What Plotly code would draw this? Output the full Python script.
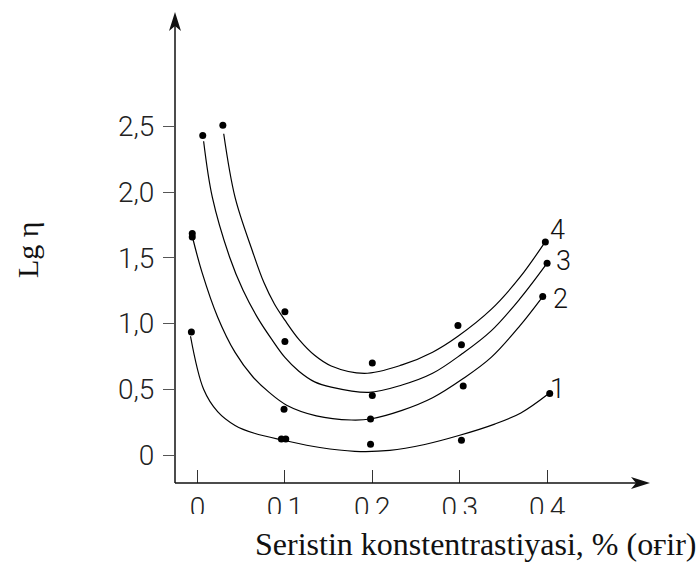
import plotly.graph_objects as go

# Measured points: cerium concentration (%) vs lg(viscosity), four series
conc_1 = [-0.007, 0.096, 0.101, 0.198, 0.302, 0.403]
lg_eta_1 = [0.935, 0.121, 0.121, 0.081, 0.113, 0.468]

conc_2 = [-0.006, -0.006, 0.099, 0.198, 0.304, 0.395]
lg_eta_2 = [1.685, 1.658, 0.347, 0.274, 0.524, 1.205]

conc_3 = [0.006, 0.100, 0.200, 0.302, 0.400]
lg_eta_3 = [2.429, 0.863, 0.452, 0.839, 1.459]

conc_4 = [0.029, 0.100, 0.200, 0.298, 0.398]
lg_eta_4 = [2.507, 1.090, 0.700, 0.984, 1.620]

# Smoothed fit curves through each series
fit_x_1 = [-0.008, 0.007, 0.023, 0.043, 0.065, 0.100, 0.140, 0.180, 0.220, 0.260, 0.300, 0.340, 0.370, 0.402]
fit_y_1 = [0.903, 0.500, 0.330, 0.225, 0.165, 0.110, 0.057, 0.028, 0.035, 0.080, 0.150, 0.235, 0.320, 0.468]

fit_x_2 = [-0.005, 0.005, 0.023, 0.043, 0.063, 0.082, 0.102, 0.136, 0.176, 0.198, 0.234, 0.269, 0.304, 0.336, 0.369, 0.395]
fit_y_2 = [1.637, 1.393, 1.050, 0.780, 0.597, 0.476, 0.379, 0.298, 0.266, 0.274, 0.339, 0.435, 0.581, 0.742, 0.984, 1.205]

fit_x_3 = [0.007, 0.017, 0.037, 0.052, 0.069, 0.085, 0.100, 0.116, 0.134, 0.153, 0.196, 0.234, 0.269, 0.302, 0.336, 0.369, 0.400]
fit_y_3 = [2.386, 1.959, 1.500, 1.254, 1.041, 0.879, 0.742, 0.637, 0.556, 0.516, 0.476, 0.532, 0.621, 0.766, 0.944, 1.189, 1.459]

fit_x_4 = [0.030, 0.043, 0.063, 0.076, 0.088, 0.100, 0.116, 0.134, 0.153, 0.191, 0.234, 0.269, 0.298, 0.336, 0.369, 0.398]
fit_y_4 = [2.443, 1.959, 1.548, 1.311, 1.148, 1.025, 0.879, 0.758, 0.677, 0.621, 0.685, 0.782, 0.903, 1.107, 1.352, 1.623]

series_names = ["1", "2", "3", "4"]
x_tick_vals = [0, 0.1, 0.2, 0.3, 0.4]
x_tick_text = ["0", "0,1", "0,2", "0,3", "0,4"]
y_tick_vals = [0, 0.5, 1.0, 1.5, 2.0, 2.5]
y_tick_text = ["0", "0,5", "1,0", "1,5", "2,0", "2,5"]

# ---- page geometry (pixels) ----
W, H = 697, 562
PL, PR, PT, PB = 175, 650, 12, 483          # plot area edges
X0_PX, X_SCALE = 197.5, 874.0               # pixel of x=0, pixels per unit
Y0_PX, Y_SCALE = 455.0, 131.5               # pixel of y=0, pixels per unit
x_range = [(PL - X0_PX) / X_SCALE, (PR - X0_PX) / X_SCALE]
y_range = [(Y0_PX - PB) / Y_SCALE, (Y0_PX - PT) / Y_SCALE]


def paper(px, py):
    return (px - PL) / (PR - PL), (PB - py) / (PB - PT)


def path(points):
    pts = [paper(px, py) for px, py in points]
    return "M " + " L ".join(f"{a:.5f},{b:.5f}" for a, b in pts) + " Z"


SANS = "Roboto"
SERIF = "Liberation Serif"

fig = go.Figure()

points = [(conc_1, lg_eta_1), (conc_2, lg_eta_2), (conc_3, lg_eta_3), (conc_4, lg_eta_4)]
fits = [(fit_x_1, fit_y_1), (fit_x_2, fit_y_2), (fit_x_3, fit_y_3), (fit_x_4, fit_y_4)]

for (fx, fy) in fits:
    fig.add_trace(go.Scatter(
        x=fx, y=fy, mode="lines",
        line=dict(color="black", width=1.2, shape="spline", smoothing=1.0),
        hoverinfo="skip", cliponaxis=False,
    ))

for (px_, py_) in points:
    fig.add_trace(go.Scatter(
        x=px_, y=py_, mode="markers",
        marker=dict(color="black", size=7),
        cliponaxis=False,
    ))

# curve numbers next to the last point of each series
label_shift = {"1": (8, 4), "2": (18, -2), "3": (16, 2), "4": (12, 12)}
for name, (px_, py_) in zip(series_names, points):
    dx, dy = label_shift[name]
    fig.add_annotation(
        x=px_[-1], y=py_[-1], xref="x", yref="y", text=name, showarrow=False,
        xanchor="center", yanchor="middle", xshift=dx, yshift=dy,
        font=dict(family=SANS, size=27, color="#111", weight=300),
    )

shapes = []
# axis lines with arrow heads
shapes.append(dict(type="line", xref="paper", yref="paper", x0=0, y0=0, x1=paper(636, PB)[0], y1=0,
                   line=dict(color="#111", width=1.5), layer="above"))
shapes.append(dict(type="line", xref="paper", yref="paper", x0=0, y0=0, x1=0, y1=paper(PL, 26)[1],
                   line=dict(color="#111", width=1.5), layer="above"))
shapes.append(dict(type="path", xref="paper", yref="paper",
                   path=path([(PR, PB), (631, PB - 6), (636, PB), (631, PB + 6)]),
                   fillcolor="#111", line=dict(width=0), layer="above"))
shapes.append(dict(type="path", xref="paper", yref="paper",
                   path=path([(PL, PT), (PL - 6, PT + 19), (PL, PT + 14), (PL + 6, PT + 19)]),
                   fillcolor="#111", line=dict(width=0), layer="above"))
# the strip below the concentration numbers is trimmed off
xa, ya = paper(150, 514)
xb, yb = paper(620, 528)
shapes.append(dict(type="rect", xref="paper", yref="paper", x0=xa, y0=ya, x1=xb, y1=yb,
                   fillcolor="white", line=dict(width=0), layer="above"))

# axis titles
tx, ty = paper(253, 544)
fig.add_annotation(x=tx, y=ty, xref="paper", yref="paper", xanchor="left", yanchor="middle",
                   text="Seristin konstentrastiyasi, % (oғir)", showarrow=False,
                   font=dict(family=SERIF, size=32, color="#111"))
lx, ly = paper(27, 250)
fig.add_annotation(x=lx, y=ly, xref="paper", yref="paper", xanchor="center", yanchor="middle",
                   text="Lg η", textangle=-90, showarrow=False,
                   font=dict(family=SERIF, size=30, color="#111"))

fig.update_layout(
    width=W, height=H,
    margin=dict(l=PL, r=W - PR, t=PT, b=H - PB, pad=0),
    paper_bgcolor="white", plot_bgcolor="white",
    showlegend=False,
    shapes=shapes,
    xaxis=dict(
        range=x_range, tickvals=x_tick_vals, ticktext=x_tick_text,
        ticks="inside", ticklen=13, tickwidth=1.2, tickcolor="#333",
        showgrid=False, zeroline=False, showline=False, automargin=False,
        ticklabelstandoff=5,
        tickfont=dict(family=SANS, size=28, color="#222", weight=300),
    ),
    yaxis=dict(
        range=y_range, tickvals=y_tick_vals, ticktext=y_tick_text,
        ticks="outside", ticklen=11, tickwidth=1.2, tickcolor="#555",
        showgrid=False, zeroline=False, showline=False, automargin=False,
        ticklabelstandoff=3,
        tickfont=dict(family=SANS, size=28, color="#222", weight=300),
    ),
)

fig.write_html("out.html")
